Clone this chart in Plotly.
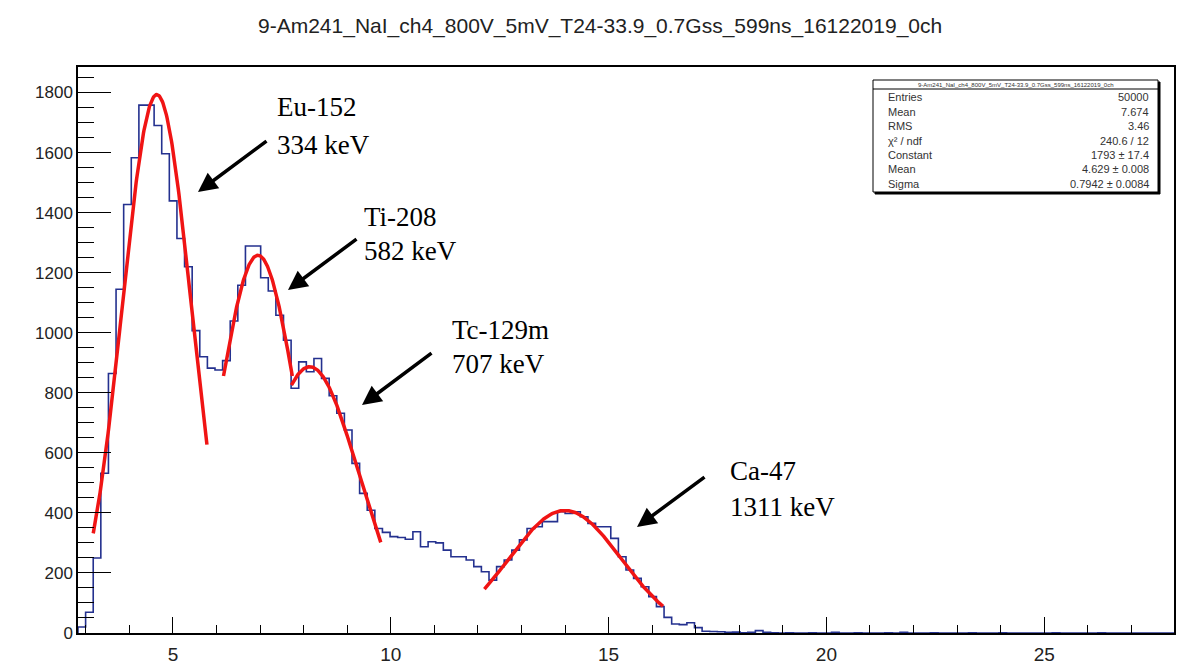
import numpy as np
import plotly.graph_objects as go

# ---------------- data ----------------
title_text = "9-Am241_NaI_ch4_800V_5mV_T24-33.9_0.7Gss_599ns_16122019_0ch"
x_low, x_high, n_bins = 2.82, 27.98, 144

counts = [
    20, 69, 250, 532, 864, 1145, 1427, 1583, 1758, 1758,
    1690, 1596, 1439, 1314, 1220, 1007, 920, 882, 876, 907,
    1039, 1158, 1289, 1289, 1183, 1139, 1058, 975, 815, 903,
    870, 914, 848, 790, 732, 676, 565, 465, 409, 348,
    335, 321, 318, 312, 337, 287, 304, 300, 276, 254,
    254, 243, 221, 204, 176, 221, 243, 276, 310, 348,
    354, 371, 371, 404, 398, 404, 387, 365, 354, 354,
    315, 254, 210, 182, 154, 121, 88, 52, 30, 28,
    34, 18, 6, 5, 4, 2, 3, 1, 2, 8,
    2, 1, 0, 1, 0, 0, 1, 0, 0, 2,
    0, 0, 1, 0, 0, 0, 1, 0, 2, 0,
    0, 0, 1, 0, 0, 0, 0, 1, 0, 0,
    0, 1, 0, 0, 0, 0, 0, 0, 1, 0,
    0, 0, 0, 0, 1, 0, 0, 0, 0, 0,
    0, 0, 0, 0,
]

# Gaussian fits: Eu-152, Ti-208, Tc-129m, Ca-47
fit_const = [1793, 1258, 887, 408]
fit_mean = [4.629, 6.95, 8.14, 14.0]
fit_sigma = [0.7942, 0.90, 1.11, 1.29]
fit_lo = [3.17, 6.16, 7.72, 12.15]
fit_hi = [5.78, 7.74, 9.77, 16.25]

peak_names = ["Eu-152", "Ti-208", "Tc-129m", "Ca-47"]
peak_energies = ["334 keV", "582 keV", "707 keV", "1311 keV"]

stat_labels = ["Entries", "Mean", "RMS", "\u03c7\u00b2 / ndf", "Constant", "Mean", "Sigma"]
stat_values = ["50000", "7.674", "3.46", "240.6 / 12", "1793 \u00b1 17.4", "4.629 \u00b1 0.008", "0.7942 \u00b1 0.0084"]

# ---------------- figure ----------------
W, H = 1183, 664
L, R, T, B = 78, 1174, 67, 633


def ppx(px):
    return (px - L) / (R - L)


def ppy(py):
    return (B - py) / (B - T)


edges = np.linspace(x_low, x_high, n_bins + 1)
hx = np.concatenate([[edges[0]], edges])
hy = np.concatenate([[0], counts, [counts[-1]]])

fig = go.Figure()
fig.add_trace(go.Scatter(x=hx, y=hy, mode="lines", line=dict(shape="hv", color="#24318f", width=1.6),
                         hoverinfo="skip", showlegend=False))

for c, m, s, lo, hi in zip(fit_const, fit_mean, fit_sigma, fit_lo, fit_hi):
    xs = np.linspace(lo, hi, 200)
    ys = c * np.exp(-0.5 * ((xs - m) / s) ** 2)
    fig.add_trace(go.Scatter(x=xs, y=ys, mode="lines", line=dict(color="#f01414", width=3.5),
                             hoverinfo="skip", showlegend=False))

serif = "Liberation Serif"
text_pos = [(275, 107, 145), (362, 217, 251), (450, 330, 364), (728, 471, 507)]
arrow_heads = [(198, 192), (288, 290), (362, 405), (637, 527)]
arrow_tails = [(268, 140), (358, 238), (433, 352), (706, 476)]

annotations = []
for name, en, (tx, ty1, ty2) in zip(peak_names, peak_energies, text_pos):
    annotations.append(dict(x=ppx(tx), y=ppy(ty1), xref="paper", yref="paper", text=name, showarrow=False,
                            xanchor="left", yanchor="middle", font=dict(family=serif, size=27, color="black")))
    annotations.append(dict(x=ppx(tx), y=ppy(ty2), xref="paper", yref="paper", text=en, showarrow=False,
                            xanchor="left", yanchor="middle", font=dict(family=serif, size=27, color="black")))
for (hx_, hy_), (tx_, ty_) in zip(arrow_heads, arrow_tails):
    annotations.append(dict(x=ppx(hx_), y=ppy(hy_), xref="paper", yref="paper", text="", showarrow=True,
                            ax=tx_ - hx_, ay=ty_ - hy_, arrowhead=2, arrowsize=1.1, arrowwidth=3.5,
                            arrowcolor="black"))

# title
annotations.append(dict(x=ppx(600), y=ppy(26), xref="paper", yref="paper", text=title_text, showarrow=False,
                        xanchor="center", yanchor="middle",
                        font=dict(family="Liberation Sans", size=21, color="#222222")))

# stats box
bx0, bx1, by0, by1 = 873, 1158, 80, 192
shapes = [
    dict(type="rect", xref="paper", yref="paper", x0=ppx(bx0 + 2), x1=ppx(bx1 + 2), y0=ppy(by1 + 2), y1=ppy(by0 + 2),
         line=dict(color="black", width=1), fillcolor="black", layer="above"),
    dict(type="rect", xref="paper", yref="paper", x0=ppx(bx0), x1=ppx(bx1), y0=ppy(by1), y1=ppy(by0),
         line=dict(color="black", width=1), fillcolor="white", layer="above"),
    dict(type="line", xref="paper", yref="paper", x0=ppx(bx0), x1=ppx(bx1), y0=ppy(89), y1=ppy(89),
         line=dict(color="black", width=1), layer="above"),
]
annotations.append(dict(x=ppx((bx0 + bx1) / 2), y=ppy(84.5), xref="paper", yref="paper",
                        text=title_text, showarrow=False, xanchor="center", yanchor="middle",
                        font=dict(family="Liberation Sans", size=6, color="#333333")))
row_y = [97, 111.5, 126, 140.5, 155, 169.5, 184]
for lab, val, ry in zip(stat_labels, stat_values, row_y):
    annotations.append(dict(x=ppx(886), y=ppy(ry), xref="paper", yref="paper", text=lab, showarrow=False,
                            xanchor="left", yanchor="middle",
                            font=dict(family="Liberation Sans", size=11, color="#333333")))
    annotations.append(dict(x=ppx(1151), y=ppy(ry), xref="paper", yref="paper", text=val, showarrow=False,
                            xanchor="right", yanchor="middle",
                            font=dict(family="Liberation Sans", size=11, color="#333333")))

fig.update_layout(
    width=W, height=H,
    margin=dict(l=L, r=W - R, t=T, b=H - B, pad=0, autoexpand=False),
    paper_bgcolor="white", plot_bgcolor="white",
    showlegend=False,
    annotations=annotations,
    shapes=shapes,
    xaxis=dict(range=[x_low, x_high], showgrid=False, zeroline=False, showline=True, mirror=True,
               automargin=False,
               linecolor="black", linewidth=1.5, ticks="inside", ticklen=16, tickwidth=1.2, tickcolor="black",
               tick0=0, dtick=5, ticklabelstandoff=3,
               tickfont=dict(family="Liberation Sans", size=19, color="#222222"),
               minor=dict(ticks="inside", ticklen=8, dtick=1, tickcolor="black", tickwidth=1.2, showgrid=False)),
    yaxis=dict(range=[0, 1885], showgrid=False, zeroline=False, showline=True, mirror=True,
               automargin=False,
               linecolor="black", linewidth=1.5, ticks="inside", ticklen=33, tickwidth=1.2, tickcolor="black",
               tick0=0, dtick=200, tickfont=dict(family="Liberation Sans", size=17, color="#222222"),
               minor=dict(ticks="inside", ticklen=16, dtick=50, tickcolor="black", tickwidth=1.2, showgrid=False)),
)

fig.write_html("out.html")
